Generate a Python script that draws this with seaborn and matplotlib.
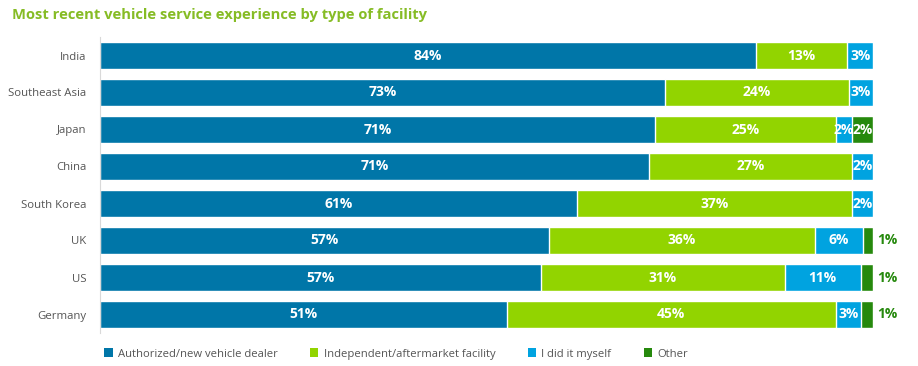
import matplotlib
matplotlib.use('Agg')
import matplotlib.pyplot as plt
from matplotlib.patches import Patch
import numpy as np
import pandas as pd
import seaborn as sb

countries = ["India", "Southeast Asia", "Japan", "China", "South Korea", "UK", "US", "Germany"]
# segment widths (share of respondents, %)
dealer = [84.8, 73.1, 71.8, 71.0, 61.7, 58.1, 57.0, 52.6]
independent = [11.9, 23.8, 23.4, 26.3, 35.6, 34.4, 31.6, 42.6]
myself = [3.3, 3.1, 2.1, 2.7, 2.7, 6.2, 9.8, 3.3]
other = [0, 0, 2.7, 0, 0, 1.3, 1.6, 1.5]
# labels as printed on the chart
dealer_lbl = ["84%", "73%", "71%", "71%", "61%", "57%", "57%", "51%"]
independent_lbl = ["13%", "24%", "25%", "27%", "37%", "36%", "31%", "45%"]
myself_lbl = ["3%", "3%", "2%", "2%", "2%", "6%", "11%", "3%"]
other_lbl = ["", "", "2%", "", "", "1%", "1%", "1%"]

series_names = ["Authorized/new vehicle dealer", "Independent/aftermarket facility",
                "I did it myself", "Other"]
colors = ["#0076A8", "#92D400", "#00A3E0", "#26890D"]

sb.set_style("white")
plt.rcParams['font.family'] = ['Open Sans', 'DejaVu Sans']

parts = np.array([dealer, independent, myself, other], dtype=float)
labels = [dealer_lbl, independent_lbl, myself_lbl, other_lbl]
cum = parts.cumsum(axis=0)

fig = plt.figure(figsize=(9.18, 3.66), dpi=100)
ax = fig.add_axes([100 / 918, 1 - 333 / 366, 773 / 918, 296 / 366])

# stacked bars: draw cumulative totals from the right-most segment down
for i in range(3, -1, -1):
    df = pd.DataFrame({"country": countries, "value": cum[i]})
    sb.barplot(data=df, x="value", y="country", orient="h", color=colors[i],
               saturation=1, width=0.71, ax=ax, order=countries)

# value labels
for j in range(len(countries)):
    for i in range(4):
        v = parts[i, j]
        if v <= 0:
            continue
        start = cum[i, j] - v
        if v < 1.8:
            ax.text(cum[-1, j] + 0.5, j, labels[i][j], ha="left", va="center",
                    color=colors[3], fontsize=10, fontweight="bold")
        else:
            ax.text(start + v / 2, j, labels[i][j], ha="center", va="center",
                    color="white", fontsize=10, fontweight="bold")

ax.set_xlim(0, 100)
ax.set_ylim(7.5, -0.5)
ax.set_xlabel("")
ax.set_ylabel("")
ax.set_xticks([])
ax.tick_params(axis="y", length=0, pad=10, labelsize=8.2, labelcolor="#555555")
for s in ["top", "right", "bottom"]:
    ax.spines[s].set_visible(False)
ax.spines["left"].set_color("#d9d9d9")
ax.spines["left"].set_linewidth(0.8)

fig.text(12 / 918, 1 - 15 / 366, "Most recent vehicle service experience by type of facility",
         ha="left", va="center", fontsize=10.6, fontweight="bold", color="#86BC25")

handles = [Patch(facecolor=c, edgecolor="none") for c in colors]
fig.legend(handles, series_names, loc="center left", bbox_to_anchor=(94 / 918, 1 - 354 / 366),
           ncol=4, frameon=False, fontsize=8.1, handlelength=0.75, handleheight=0.75,
           handletextpad=0.45, columnspacing=2.9, labelcolor="#555555")

plt.savefig("out.png", dpi=100)
plt.close()
